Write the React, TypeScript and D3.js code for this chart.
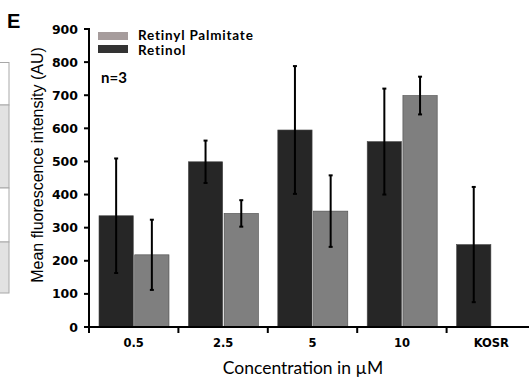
import React from "react"
import * as d3 from "d3"

const categories = ["0.5", "2.5", "5", "10", "KOSR"]
const retinol = [336, 499, 595, 560, 249]
const retinolErr = [173, 64, 193, 160, 174]
const palmitate = [218, 343, 350, 699, null]
const palmitateErr = [106, 40, 108, 57, null]
const yTicks = [0, 100, 200, 300, 400, 500, 600, 700, 800, 900]
const seriesNames = ["Retinyl Palmitate", "Retinol"]

const W = 529
const H = 382
const margin = { left: 89, top: 29, bottom: 55 }
const tickFont = "'DejaVu Sans', Verdana, sans-serif"

const App = () => {
    // scales
    const x = d3.scaleBand().domain(categories).range([margin.left, margin.left + 89.4 * categories.length])
    const sub = d3.scaleBand().domain(["retinol", "palmitate"]).range([10, 80]).paddingInner(0.04)
    const y = d3.scaleLinear().domain([0, 900]).range([H - margin.bottom, margin.top])

    const bars: any[] = []
    categories.forEach((c, i) => {
        bars.push({ c, key: "retinol", v: retinol[i], e: retinolErr[i], fill: "#262626" })
        if (palmitate[i] != null) bars.push({ c, key: "palmitate", v: palmitate[i], e: palmitateErr[i], fill: "#7f7f7f" })
    })

    const y0 = y(0)

    return (
        <svg width={W} height={H} style={{ position: "absolute", left: 0, top: 0, background: "#fff" }}>
            {/* cropped table from the neighbouring panel */}
            <g stroke="#a8a8a8" strokeWidth={1}>
                <rect x={-2} y={62.5} width={11} height={42.5} fill="#fff" />
                <rect x={-2} y={105} width={11} height={83} fill="#e2e2e2" />
                <rect x={-2} y={188} width={11} height={54} fill="#fff" />
                <rect x={-2} y={242} width={11} height={51} fill="#e2e2e2" />
            </g>

            <text x={7} y={28} fontFamily="'Liberation Sans', Arial, sans-serif" fontWeight="bold" fontSize={20}>E</text>

            {/* bars */}
            {bars.map((b, i) => {
                const bx = x(b.c)! + sub(b.key)!
                const cx = bx + sub.bandwidth() / 2
                return (
                    <g key={i}>
                        <rect x={bx} y={y(b.v)} width={sub.bandwidth()} height={y0 - y(b.v)} fill={b.fill} stroke="#4a4a4a" strokeWidth={0.6} />
                        <line x1={cx} x2={cx} y1={y(b.v + b.e)} y2={y(b.v - b.e)} stroke="#000" strokeWidth={2} />
                        <line x1={cx - 2} x2={cx + 2} y1={y(b.v + b.e)} y2={y(b.v + b.e)} stroke="#000" strokeWidth={2} />
                        <line x1={cx - 2} x2={cx + 2} y1={y(b.v - b.e)} y2={y(b.v - b.e)} stroke="#000" strokeWidth={2} />
                    </g>
                )
            })}

            {/* y axis */}
            <line x1={margin.left} x2={margin.left} y1={y(900) - 1} y2={y0 + 1} stroke="#000" strokeWidth={2} />
            {yTicks.map(t => (
                <g key={t}>
                    <line x1={margin.left - 5} x2={margin.left} y1={y(t)} y2={y(t)} stroke="#000" strokeWidth={2} />
                    <text x={78} y={y(t)} dy="0.36em" textAnchor="end" fontFamily={tickFont} fontWeight="bold" fontSize={12.5}>{t}</text>
                </g>
            ))}

            {/* x axis */}
            <line x1={margin.left - 1} x2={W} y1={y0} y2={y0} stroke="#000" strokeWidth={2} />
            {categories.map(c => (
                <g key={c}>
                    <line x1={x(c)!} x2={x(c)!} y1={y0} y2={y0 + 6} stroke="#000" strokeWidth={2} />
                    <text x={x(c)! + x.bandwidth() / 2} y={343} dy="0.36em" textAnchor="middle" fontFamily={tickFont} fontWeight="bold" fontSize={11.5}>{c}</text>
                </g>
            ))}

            {/* titles */}
            <text x={303} y={368} dy="0.36em" textAnchor="middle" fontFamily="Lato, sans-serif" fontSize={17.5}>Concentration in µM</text>
            <text transform={`translate(37, ${165}) rotate(-90)`} dy="0.36em" textAnchor="middle" fontFamily="'Liberation Sans', Arial, sans-serif" fontSize={16}>Mean fluorescence intensity (AU)</text>

            {/* legend */}
            <rect x={98} y={32} width={30} height={8} fill="#a69c9c" />
            <rect x={98} y={45} width={30} height={8} fill="#333" />
            <text x={138} y={35} dy="0.36em" fontFamily="Lato, sans-serif" fontWeight="bold" fontSize={13.5} letterSpacing={0.8}>{seriesNames[0]}</text>
            <text x={138} y={50} dy="0.36em" fontFamily="Lato, sans-serif" fontWeight="bold" fontSize={13.5} letterSpacing={0.8}>{seriesNames[1]}</text>
            <text x={101} y={78} dy="0.36em" fontFamily="Lato, sans-serif" fontWeight="bold" fontSize={15}>n=3</text>
        </svg>
    )
}

export default App
